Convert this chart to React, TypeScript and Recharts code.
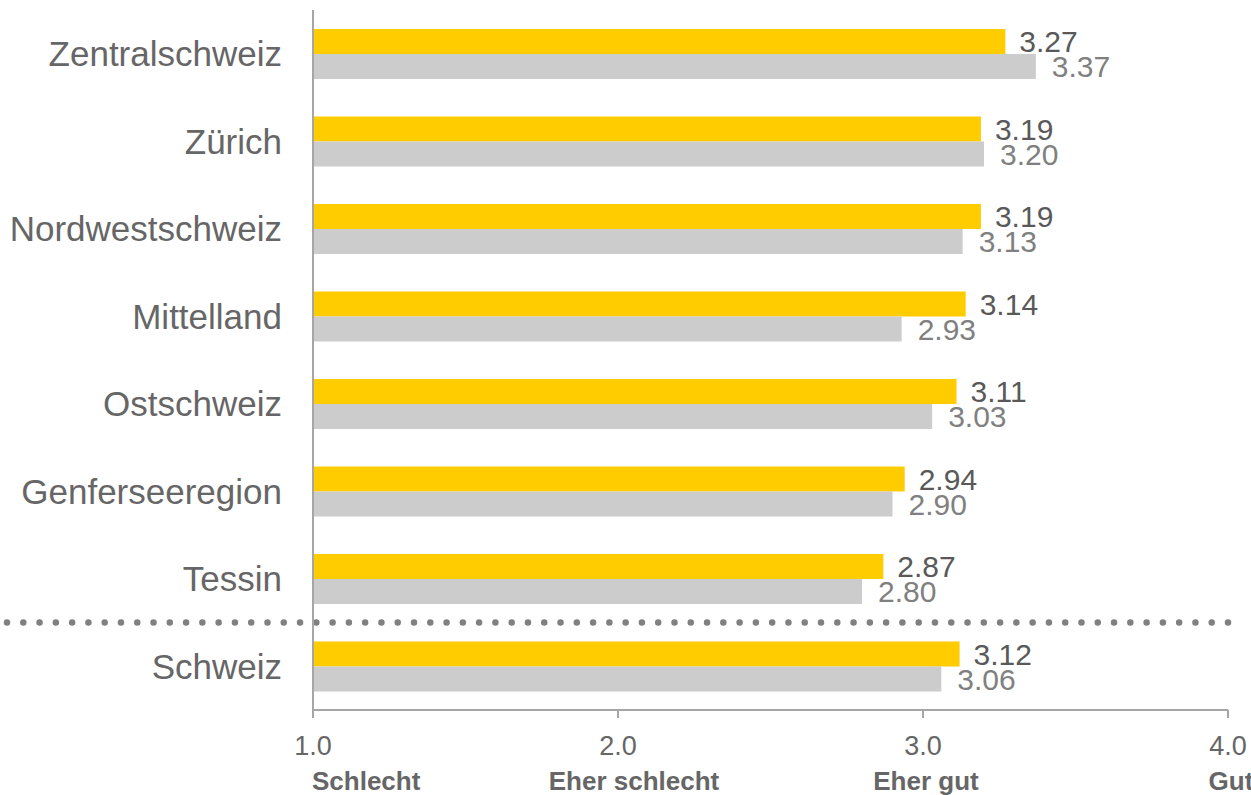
import { BarChart, Bar, XAxis, YAxis, LabelList, ReferenceLine } from 'recharts';

const regions = ['Zentralschweiz', 'Zürich', 'Nordwestschweiz', 'Mittelland', 'Ostschweiz', 'Genferseeregion', 'Tessin', 'Schweiz'];
const current = [3.27, 3.19, 3.19, 3.14, 3.11, 2.94, 2.87, 3.12];
const previous = [3.37, 3.2, 3.13, 2.93, 3.03, 2.9, 2.8, 3.06];
const xTicks = [1, 2, 3, 4];
const xTickNames = ['Schlecht', 'Eher schlecht', 'Eher gut', 'Gut'];

const FONT = '"Liberation Sans", Arial, Helvetica, sans-serif';

const data = regions.map((name, i) => ({ name, current: current[i], previous: previous[i] }));

function XTick(props: any) {
    const { x, y, payload, index } = props;
    const first = index === 0;
    return (
        <g>
            <text x={x} y={y + 37} textAnchor="middle" fill="#666666" fontSize={27} fontFamily={FONT}>
                {payload.value.toFixed(1)}
            </text>
            <text
                x={first ? x - 1 : index === 1 ? x + 16 : x + 3}
                y={y + 72}
                textAnchor={first ? 'start' : 'middle'}
                fill="#666666"
                fontSize={26}
                fontWeight="bold"
                fontFamily={FONT}
            >
                {xTickNames[index]}
            </text>
        </g>
    );
}

function YTick(props: any) {
    const { x, y, payload } = props;
    return (
        <text x={x} y={y} dy="0.355em" textAnchor="end" fill="#666666" fontSize={35} fontFamily={FONT}>
            {payload.value}
        </text>
    );
}

function DottedSeparator(props: any) {
    const { x2, y1 } = props;
    return (
        <line x1={7} x2={x2 + 2} y1={y1} y2={y1} stroke="#808080" strokeWidth={6.5} strokeLinecap="round" strokeDasharray="0 16.28" />
    );
}

export default function App() {
    return (
        <div style={{ position: 'absolute', left: 0, top: 0, background: '#fff' }}>
            <BarChart
                width={1251}
                height={795}
                data={data}
                layout="vertical"
                margin={{ top: 10, right: 23, bottom: 0, left: 0 }}
                barSize={25}
                barGap={0}
            >
                <XAxis
                    type="number"
                    domain={[1, 4]}
                    ticks={xTicks}
                    height={85}
                    axisLine={{ stroke: '#a6a6a6', strokeWidth: 2 }}
                    tickLine={{ stroke: '#a6a6a6', strokeWidth: 2 }}
                    tickSize={8}
                    tickMargin={0}
                    tick={<XTick />}
                    interval={0}
                />
                <YAxis
                    type="category"
                    dataKey="name"
                    width={313}
                    axisLine={{ stroke: '#a6a6a6', strokeWidth: 2 }}
                    tickLine={false}
                    tickSize={0}
                    tickMargin={31}
                    tick={<YTick />}
                    interval={0}
                />
                <ReferenceLine y="Schweiz" position="start" shape={<DottedSeparator />} ifOverflow="visible" />
                <Bar dataKey="current" fill="#ffcc00" isAnimationActive={false}>
                    <LabelList
                        dataKey="current"
                        position="right"
                        offset={14}
                        fill="#595959"
                        fontSize={30}
                        fontFamily={FONT}
                        formatter={(v: any) => Number(v).toFixed(2)}
                    />
                </Bar>
                <Bar dataKey="previous" fill="#cccccc" isAnimationActive={false}>
                    <LabelList
                        dataKey="previous"
                        position="right"
                        offset={16}
                        fill="#808080"
                        fontSize={30}
                        fontFamily={FONT}
                        formatter={(v: any) => Number(v).toFixed(2)}
                    />
                </Bar>
            </BarChart>
        </div>
    );
}
